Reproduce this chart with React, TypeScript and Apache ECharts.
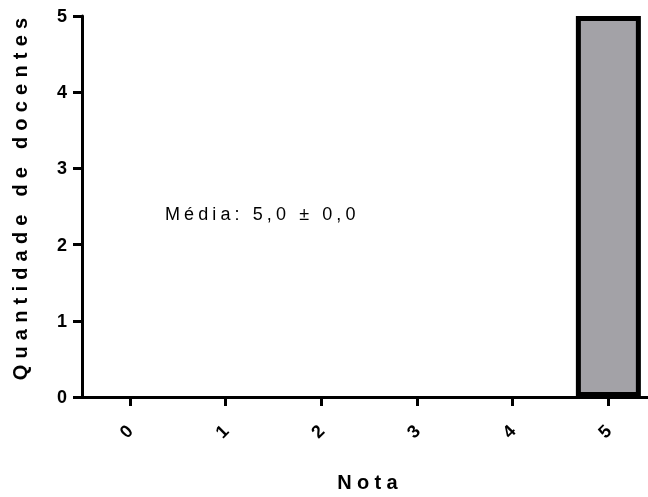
import React, { useEffect, useRef } from "react";
import * as echarts from "echarts";

const categories = [0, 1, 2, 3, 4, 5];
const counts = [0, 0, 0, 0, 0, 5];
const yTicks = [0, 1, 2, 3, 4, 5];
const xTitle = "Nota";
const yTitle = "Quantidade de docentes";
const note = "Média: 5,0 ± 0,0";

export default function App() {
  const ref = useRef<HTMLDivElement>(null);
  useEffect(() => {
    const el = ref.current!;
    const chart = echarts.init(el, null, { renderer: "svg" });
    const font = "'Liberation Sans', Arial, Helvetica, sans-serif";
    chart.setOption({
      animation: false,
      grid: { left: 82, right: 0, top: 16, bottom: 100, containLabel: false },
      xAxis: {
        type: "value",
        min: -0.5,
        max: 5.414,
        name: xTitle,
        nameLocation: "middle",
        nameGap: 75,
        nameTextStyle: {
          fontFamily: font,
          fontWeight: "bold",
          fontSize: 20,
          color: "#000",
          padding: [0, 0, 0, 10],
        },
        axisLine: { show: true, onZero: false, lineStyle: { color: "#000", width: 3 } },
        axisTick: { show: true, customValues: categories, length: 9, lineStyle: { color: "#000", width: 3 } },
        axisLabel: {
          customValues: categories,
          rotate: 45,
          margin: 31,
          fontFamily: font,
          fontWeight: "bold",
          fontSize: 18,
          color: "#000",
        },
        splitLine: { show: false },
      },
      yAxis: {
        type: "value",
        min: yTicks[0],
        max: yTicks[yTicks.length - 1],
        interval: 1,
        name: yTitle,
        nameLocation: "middle",
        nameRotate: 90,
        nameGap: 52,
        nameTextStyle: {
          fontFamily: font,
          fontWeight: "bold",
          fontSize: 20,
          color: "#000",
          padding: [0, 0, 0, 21],
        },
        axisLine: { show: true, onZero: false, lineStyle: { color: "#000", width: 3 } },
        axisTick: { show: true, length: 9, lineStyle: { color: "#000", width: 3 } },
        axisLabel: { margin: 15, fontFamily: font, fontWeight: "bold", fontSize: 18, color: "#000" },
        splitLine: { show: false },
      },
      graphic: [
        {
          type: "text",
          left: 165,
          top: 205,
          style: { text: note, font: `18px ${font}`, fill: "#000" },
        },
      ],
      series: [
        {
          type: "bar",
          barWidth: 65,
          data: categories.map((c, i) =>
            counts[i] === 0
              ? { value: [c, 0], itemStyle: { borderWidth: 0 } }
              : { value: [c, counts[i]] }
          ),
          itemStyle: { color: "#A3A2A7", borderColor: "#000", borderWidth: 5 },
        },
      ],
    });
    const spacing: Record<string, string> = { [yTitle]: "6.2px", [xTitle]: "5.3px", [note]: "4.1px" };
    const apply = () => {
      el.querySelectorAll("text").forEach((t) => {
        const s = spacing[(t.textContent || "").trim()];
        if (s) (t as SVGTextElement).style.letterSpacing = s;
      });
    };
    apply();
    chart.on("finished", apply);
    return () => {
      chart.dispose();
    };
  }, []);
  return (
    <div
      ref={ref}
      style={{ position: "fixed", left: 0, top: 0, width: 648, height: 497 }}
    />
  );
}
